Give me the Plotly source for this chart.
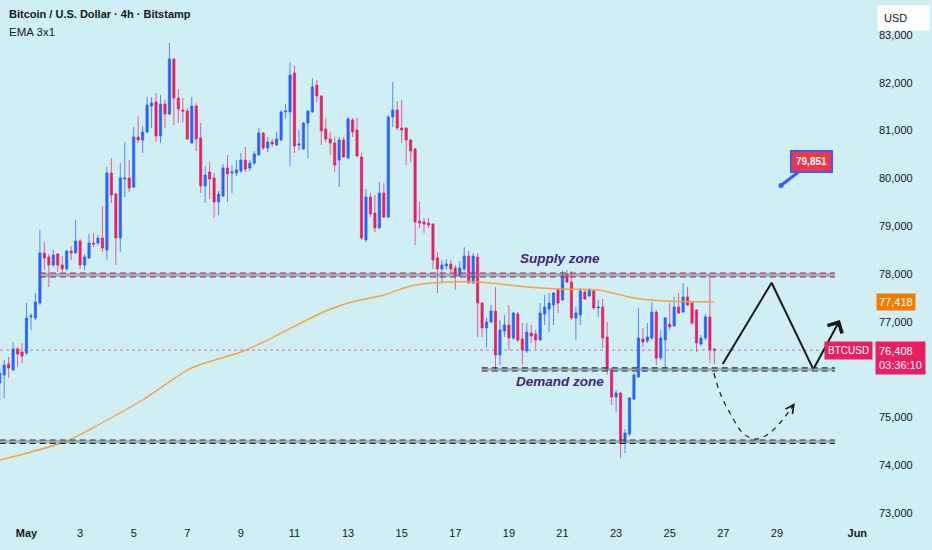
import pandas as pd
import plotly.graph_objects as go

# ---- candle data (4h, Bitstamp BTCUSD) ----
first_candle = '2025-04-30 00:00'

opens = [75719, 75887, 76117, 75992, 76431, 76368, 76347, 77101, 77080, 77393,
         78439, 78356, 78188, 78418, 78188, 78105, 78481, 78439, 78690, 78188,
         78335, 78648, 78648, 78753, 78502, 80113, 79673, 78753, 79987, 80008,
         79820, 80866, 80803, 80970, 81514, 81598, 80887, 81556, 81347, 82498,
         81682, 81431, 81410, 80740, 81514, 80845, 79841, 80134, 80008, 79506,
         79631, 80218, 80113, 80113, 80155, 80385, 80218, 80322, 80490, 80949,
         80636, 80761, 80698, 80803, 81389, 81389, 82205, 80698, 80615, 81159,
         81389, 81954, 81724, 81033, 80824, 80740, 80385, 80803, 80427, 81222,
         81012, 80448, 78711, 79611, 79276, 78962, 79694, 79192, 81285, 81431,
         81054, 81054, 80803, 80615, 79109, 79088, 79067, 79046, 78335, 78105,
         78167, 78209, 78126, 77958, 78105, 78377, 77812, 78356, 77393, 76870,
         76996, 77226, 76305, 76807, 76933, 76661, 77163, 76640, 76389, 76765,
         76744, 76619, 77163, 77268, 77351, 77665, 77456, 78000, 77832, 77080,
         77142, 77623, 77540, 77644, 77289, 77309, 76682, 75992, 75427, 75510,
         74464, 74652, 75385, 75845, 76640, 76598, 76661, 77205, 76243, 76619,
         76954, 76912, 77309, 77205, 77519, 77393, 77247, 76535, 76661, 77101,
         76431]
highs = [76055, 76201, 76264, 76577, 76473, 76556, 77393, 77184, 77602, 78920,
         78669, 78418, 78502, 78439, 78377, 78502, 78586, 79130, 78732, 78418,
         78836, 78857, 78815, 79423, 80238, 80427, 79694, 80322, 80761, 80385,
         81075, 81306, 81096, 81703, 81703, 81786, 81744, 81640, 82832, 82519,
         81870, 81682, 81473, 81703, 81577, 81159, 80259, 80343, 80113, 79736,
         80301, 80490, 80280, 80385, 80531, 80657, 80385, 80573, 81054, 80970,
         80866, 80824, 80970, 81431, 81556, 82435, 82351, 81012, 81180, 81431,
         82100, 82058, 81744, 81264, 80970, 80866, 80866, 80866, 81285, 81264,
         81264, 80531, 79778, 79694, 79652, 79924, 79903, 81326, 82016, 81619,
         81640, 81075, 80824, 80636, 79506, 79172, 79172, 79067, 78460, 78293,
         78314, 78293, 78188, 78272, 78565, 78481, 78439, 78439, 77414, 77080,
         77351, 77728, 77038, 77142, 77351, 77205, 77205, 76975, 76975, 76933,
         76828, 77393, 77561, 77602, 77623, 77707, 78084, 78084, 78063, 77309,
         77707, 77665, 77707, 77686, 77456, 77477, 76996, 76034, 75573, 75531,
         74757, 75427, 75929, 77289, 76870, 76975, 77414, 77247, 76828, 77101,
         77393, 77519, 77602, 77812, 77728, 77414, 77268, 76723, 77163, 77979,
         76452]
lows = [75364, 75406, 75824, 75980, 76055, 76138, 76305, 76828, 77038, 77351,
        78084, 77728, 78146, 78042, 78042, 78084, 78293, 78430, 78105, 78084,
        78314, 78565, 78607, 78460, 78293, 79485, 78188, 78460, 79611, 79716,
        79799, 80740, 80531, 80949, 81054, 80761, 80740, 81054, 81326, 81117,
        81159, 81180, 80803, 80730, 80573, 79694, 79485, 79569, 79172, 79234,
        79611, 79506, 79694, 80050, 80113, 80134, 80155, 80280, 80469, 80594,
        80552, 80657, 80677, 80782, 81264, 80259, 80531, 80594, 80594, 80427,
        81368, 81598, 80698, 80761, 80490, 80134, 79820, 80427, 80406, 80866,
        80448, 78711, 78669, 79192, 78878, 78950, 79172, 79170, 81075, 81012,
        80740, 80280, 80343, 78607, 78962, 78857, 78962, 78105, 77602, 77812,
        78084, 78042, 77665, 77937, 78063, 77800, 77800, 76682, 76682, 76473,
        76975, 75992, 76096, 76682, 76410, 76619, 76577, 76096, 76347, 76556,
        76431, 76598, 76933, 76786, 76933, 77184, 77435, 77812, 77038, 76619,
        76933, 77456, 77519, 77247, 77101, 76452, 75887, 75259, 75113, 74150,
        74255, 74611, 75364, 75824, 76473, 76556, 76619, 76096, 76201, 76034,
        76828, 76891, 77163, 77184, 77331, 76933, 76368, 76494, 76619, 76138,
        76117]
closes = [75929, 76096, 76034, 76431, 76326, 76284, 77080, 77122, 77414, 78439,
          78335, 78188, 78397, 78188, 78105, 78481, 78439, 78690, 78188, 78356,
          78648, 78627, 78753, 78544, 80113, 79652, 78753, 80008, 80008, 79799,
          80866, 80803, 80970, 81535, 81577, 80887, 81556, 81347, 82498, 81682,
          81452, 81410, 80824, 81514, 80824, 79841, 80071, 79987, 79506, 79673,
          80218, 80092, 80134, 80176, 80385, 80197, 80322, 80510, 80949, 80636,
          80761, 80719, 80824, 81389, 81410, 82163, 80677, 80719, 81159, 81410,
          81912, 81724, 80991, 80824, 80740, 80280, 80803, 80448, 81243, 80970,
          80469, 78753, 79611, 79255, 78962, 79694, 79192, 81285, 81431, 81054,
          81012, 80803, 80573, 79088, 79067, 79046, 79025, 78293, 78105, 78188,
          78209, 78105, 77958, 78126, 78377, 77812, 78377, 77393, 76870, 76996,
          77226, 76305, 76828, 76933, 76661, 77184, 76619, 76410, 76786, 76703,
          76619, 77184, 77309, 77393, 77602, 77393, 77979, 77832, 77080, 77184,
          77644, 77477, 77665, 77289, 77309, 76661, 75992, 75427, 75510, 74464,
          74673, 75406, 75887, 76661, 76577, 76682, 77205, 76243, 76661, 77080,
          76891, 77309, 77184, 77519, 77351, 76975, 76556, 76661, 77101, 76410,
          76408]

# EMA line, read at a few points along the curve
ema_times = ['2025-04-30 00:00', '2025-05-01 04:00', '2025-05-02 12:00', '2025-05-03 16:00',
             '2025-05-05 08:00', '2025-05-07 04:00', '2025-05-09 00:00', '2025-05-10 00:00',
             '2025-05-12 00:00', '2025-05-13 00:00', '2025-05-14 08:00', '2025-05-15 08:00',
             '2025-05-16 04:00', '2025-05-17 20:00', '2025-05-18 16:00', '2025-05-19 16:00',
             '2025-05-20 20:00', '2025-05-22 08:00', '2025-05-23 16:00', '2025-05-24 20:00',
             '2025-05-26 16:00']
ema_values = [74109, 74276, 74506, 74841, 75364, 76034, 76368, 76619, 77184, 77393,
              77561, 77749, 77812, 77832, 77791, 77728, 77686, 77665, 77498, 77435, 77418]

# horizontal zones (low, high, start, end)
supply_zone = (77937, 78021, '2025-05-01 12:00', '2025-05-31 04:00')
demand_zone = (75971, 76034, '2025-05-17 23:40', '2025-05-31 04:00')
lower_zone = (74458, 74527, '2025-04-30 00:00', '2025-05-31 04:00')

# drawn projection paths
zigzag_times = ['2025-05-26 23:30', '2025-05-28 19:15', '2025-05-30 08:40', '2025-05-31 08:25']
zigzag_prices = [76117, 77818, 76006, 77038]
alt_times = ['2025-05-26 15:35', '2025-05-26 21:05', '2025-05-27 06:00', '2025-05-27 17:30',
             '2025-05-28 04:20', '2025-05-28 15:05', '2025-05-29 02:40', '2025-05-29 11:45',
             '2025-05-29 16:05']
alt_prices = [75929, 75510, 75092, 74673, 74548, 74632, 74883, 75155, 75301]

callout_time = '2025-05-29 03:40'
callout_price = 79851

tick_dates = ['2025-05-01', '2025-05-03', '2025-05-05', '2025-05-07', '2025-05-09',
              '2025-05-11', '2025-05-13', '2025-05-15', '2025-05-17', '2025-05-19',
              '2025-05-21', '2025-05-23', '2025-05-25', '2025-05-27', '2025-05-29',
              '2025-06-01']
tick_text = ['<b>May</b>', '3', '5', '7', '9', '11', '13', '15', '17', '19',
             '21', '23', '25', '27', '29', '<b>Jun</b>']
# 76,000 sits under the live price tag, so it is left out
price_ticks = [73000, 74000, 75000, 77000, 78000, 79000, 80000, 81000, 82000, 83000]

BG = '#d0eff5'
UP = '#2962ff'
DOWN = '#e91e63'
TXT = '#131722'
FONT = 'Liberation Sans, Arial, sans-serif'

times = pd.date_range(first_candle, periods=len(opens), freq='4h')
last_close = closes[-1]
ema_last = ema_values[-1]

fig = go.Figure()

fig.add_trace(go.Candlestick(
    x=times, open=opens, high=highs, low=lows, close=closes,
    increasing=dict(line=dict(color='rgba(41,98,255,0.75)', width=1), fillcolor=UP),
    decreasing=dict(line=dict(color='rgba(233,30,99,0.7)', width=1), fillcolor=DOWN),
    whiskerwidth=0, showlegend=False, hoverinfo='skip'
))

fig.add_trace(go.Scatter(
    x=ema_times, y=ema_values, mode='lines',
    line=dict(color='#f2a33a', width=1.4, shape='spline', smoothing=0.8),
    showlegend=False, hoverinfo='skip'
))

# zones: grey band with dashed edges
shapes = []
for low, high, t0, t1, edge in [
        (*supply_zone, '#b5174e'),
        (*demand_zone, '#2a2e39'),
        (*lower_zone, '#2a2e39')]:
    shapes.append(dict(type='rect', xref='x', yref='y', x0=t0, x1=t1, y0=low, y1=high,
                       fillcolor='rgba(120,132,142,0.55)', line=dict(width=0), layer='above'))
    for lvl in (low, high):
        shapes.append(dict(type='line', xref='x', yref='y', x0=t0, x1=t1, y0=lvl, y1=lvl,
                           line=dict(color=edge, width=1.2, dash='6px,4px'), layer='above'))

# current price dotted line
shapes.append(dict(type='line', xref='paper', yref='y', x0=0, x1=0.96, y0=last_close, y1=last_close,
                   line=dict(color='rgba(194,24,91,0.55)', width=1, dash='dot'), layer='below'))

fig.add_trace(go.Scatter(
    x=zigzag_times[:-1], y=zigzag_prices[:-1], mode='lines',
    line=dict(color='#16181d', width=2), showlegend=False, hoverinfo='skip'
))
fig.add_trace(go.Scatter(
    x=alt_times, y=alt_prices, mode='lines',
    line=dict(color='#16181d', width=1.2, dash='5px,5px', shape='spline'),
    showlegend=False, hoverinfo='skip'
))
fig.add_trace(go.Scatter(
    x=[callout_time], y=[callout_price], mode='markers',
    marker=dict(color='#3d5afe', size=5), showlegend=False, hoverinfo='skip'
))

annotations = [
    # title block
    dict(xref='paper', yref='paper', x=0.008, y=0.988, xanchor='left', yanchor='top',
         text='<b>Bitcoin / U.S. Dollar · 4h · Bitstamp</b>', showarrow=False,
         font=dict(family=FONT, size=11, color=TXT)),
    dict(xref='paper', yref='paper', x=0.008, y=0.954, xanchor='left', yanchor='top',
         text='EMA 3x1', showarrow=False, font=dict(family=FONT, size=11.5, color=TXT)),
    # zone labels
    dict(x='2025-05-20 21:45', y=78314, xref='x', yref='y', text='<b><i>Supply zone</i></b>',
         showarrow=False, font=dict(family=FONT, size=13.5, color='#3f1f80')),
    dict(x='2025-05-20 21:45', y=75741, xref='x', yref='y', text='<b><i>Demand zone</i></b>',
         showarrow=False, font=dict(family=FONT, size=13.5, color='#3f1f80')),
    # arrow head of the zigzag (open chevron)
    dict(x=zigzag_times[-1], y=zigzag_prices[-1], ax=zigzag_times[-2], ay=zigzag_prices[-2],
         xref='x', yref='y', axref='x', ayref='y', text='', showarrow=True,
         arrowhead=4, arrowsize=1.6, arrowwidth=2, arrowcolor='#16181d'),
    # small arrow head of the dashed path
    dict(x=alt_times[-1], y=alt_prices[-1], ax=alt_times[-2], ay=alt_prices[-2],
         xref='x', yref='y', axref='x', ayref='y', text='', showarrow=True,
         arrowhead=5, arrowsize=1.4, arrowwidth=1.2, arrowcolor='#16181d'),
    # price callout
    dict(x=callout_time, y=callout_price, xref='x', yref='y', ax=31, ay=-24,
         text='<b>79,851</b>', showarrow=True, arrowhead=0, arrowwidth=3,
         arrowcolor='#3d5afe', bgcolor='#f23645', bordercolor='#3d5afe', borderwidth=2,
         borderpad=4, font=dict(family=FONT, size=10, color='white')),
    # right axis labels
    dict(xref='paper', yref='y', x=1.0115, y=ema_last, xanchor='left', yanchor='middle',
         text=f'{ema_last:,}', showarrow=False, bgcolor='#f57c00', borderpad=2,
         font=dict(family=FONT, size=11, color='white')),
    dict(xref='paper', yref='y', x=1.0085, y=last_close, xanchor='right', yanchor='middle',
         text='BTCUSD', showarrow=False, bgcolor=DOWN, borderpad=3,
         font=dict(family=FONT, size=10, color='white')),
    dict(xref='paper', yref='y', x=1.0104, y=last_close, xanchor='left', yanchor='top', yshift=9,
         text=f'{last_close:,}<br>03:36:10', showarrow=False, bgcolor=DOWN, borderpad=3,
         align='left', font=dict(family=FONT, size=11, color='white')),
    dict(xref='paper', yref='paper', x=1.0127, y=0.99, xanchor='left', yanchor='top',
         text='USD' + '&nbsp;' * 5, showarrow=False, bgcolor='white', borderpad=6, align='left',
         font=dict(family=FONT, size=11, color=TXT)),
]

fig.update_layout(
    width=932, height=550,
    margin=dict(l=0, r=66, t=0, b=25),
    paper_bgcolor=BG, plot_bgcolor=BG,
    shapes=shapes, annotations=annotations,
    showlegend=False,
    font=dict(family=FONT, size=11, color=TXT),
    xaxis=dict(
        type='date', range=['2025-04-30 00:16', '2025-06-01 07:48'],
        rangeslider=dict(visible=False), showgrid=False, zeroline=False, showline=False,
        tickvals=tick_dates, ticktext=tick_text, ticks='',
        tickfont=dict(family=FONT, size=11, color=TXT), fixedrange=True
    ),
    yaxis=dict(
        side='right', range=[72749, 83732], showgrid=False, zeroline=False, showline=False,
        tickvals=price_ticks, tickformat=',d', ticks='', ticklabelstandoff=12,
        tickfont=dict(family=FONT, size=11, color=TXT), fixedrange=True
    ),
)

# drop the browser's default 8px page margin so the chart fills the window
fig.write_html('out.html', config={'displayModeBar': False},
               post_script="document.body.style.margin='0';document.body.style.overflow='hidden';")
